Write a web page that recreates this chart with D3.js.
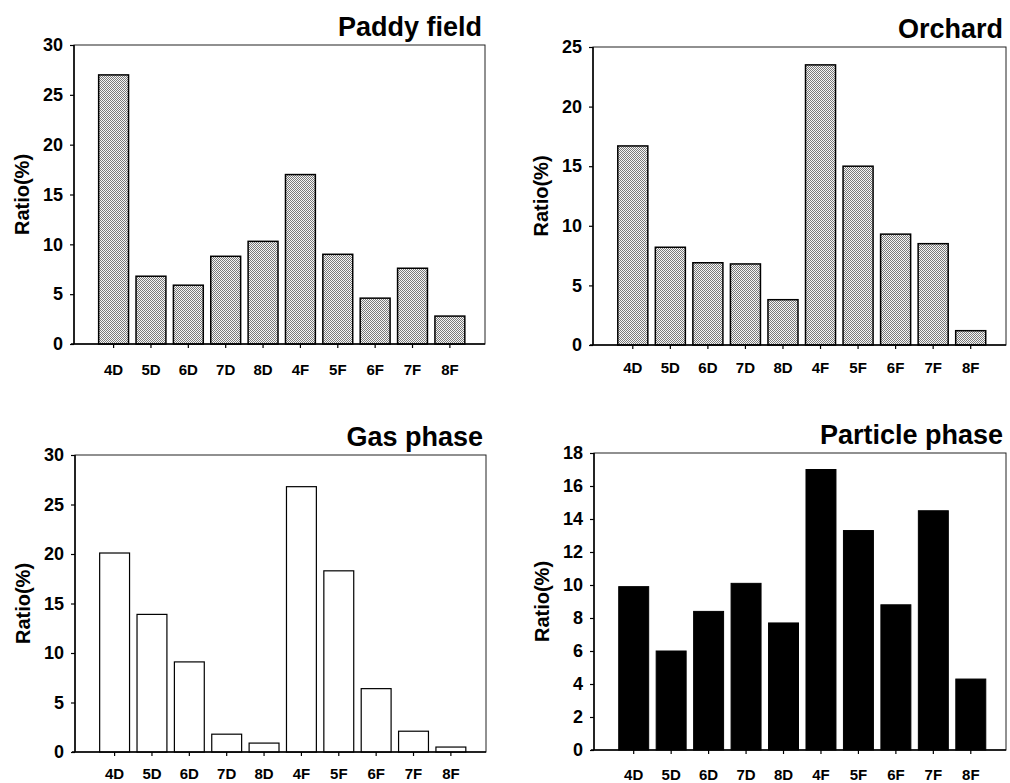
<!DOCTYPE html>
<html lang="en">
<head>
<meta charset="UTF-8">
<title>Ratio bar charts</title>
<script src="https://d3js.org/d3.v7.min.js"></script>
<style>
  body { margin: 0; background: #fff; }
  svg text { font-family: Arial, "Liberation Sans", sans-serif; font-weight: bold; fill: #000; }
</style>
</head>
<body>
<div id="chart"></div>
<script>
// categories and values
const categories = ['4D', '5D', '6D', '7D', '8D', '4F', '5F', '6F', '7F', '8F'];
const paddyValues = [27.0, 6.8, 5.9, 8.8, 10.3, 17.0, 9.0, 4.6, 7.6, 2.8];
const orchardValues = [16.7, 8.2, 6.9, 6.8, 3.8, 23.5, 15.0, 9.3, 8.5, 1.2];
const gasValues = [20.1, 13.9, 9.1, 1.8, 0.9, 26.8, 18.3, 6.4, 2.1, 0.5];
const particleValues = [9.9, 6.0, 8.4, 10.1, 7.7, 17.0, 13.3, 8.8, 14.5, 4.3];
const paddyTicks = [0, 5, 10, 15, 20, 25, 30];
const orchardTicks = [0, 5, 10, 15, 20, 25];
const gasTicks = [0, 5, 10, 15, 20, 25, 30];
const particleTicks = [0, 2, 4, 6, 8, 10, 12, 14, 16, 18];

const width = 1010, height = 783;

const svg = d3.select('#chart').append('svg')
    .attr('width', width)
    .attr('height', height);

// stipple fill like the scanned halftone
const pat = svg.append('defs').append('pattern')
    .attr('id', 'dots')
    .attr('patternUnits', 'userSpaceOnUse')
    .attr('width', 2).attr('height', 2);
pat.append('rect').attr('width', 2).attr('height', 2).attr('fill', '#f6f6f6');
pat.append('rect').attr('x', 0).attr('y', 0).attr('width', 1).attr('height', 1).attr('fill', '#7a7a7a');
pat.append('rect').attr('x', 1).attr('y', 1).attr('width', 1).attr('height', 1).attr('fill', '#7a7a7a');

const panels = [
    { title: 'Paddy field', values: paddyValues, ticks: paddyTicks, box: [74, 45, 485, 344], fill: 'url(#dots)', sw: 1.5, lab: 16 },
    { title: 'Orchard', values: orchardValues, ticks: orchardTicks, box: [593, 47, 1006, 345], fill: 'url(#dots)', sw: 1.5, lab: 13 },
    { title: 'Gas phase', values: gasValues, ticks: gasTicks, box: [75, 455, 486, 752], fill: '#fff', sw: 1.2, lab: 12 },
    { title: 'Particle phase', values: particleValues, ticks: particleTicks, box: [594, 453, 1006, 750], fill: '#000', sw: 1, lab: 15 }
];

panels.forEach(p => {
    const [l, t, r, b] = p.box;
    const g = svg.append('g');

    const x = d3.scaleBand()
        .domain(categories)
        .range([l, r])
        .paddingInner(0.2)
        .paddingOuter(0.6)
        .align(0.55);

    const y = d3.scaleLinear()
        .domain([0, d3.max(p.ticks)])
        .range([b, t]);

    // frame (top / right sides)
    g.append('rect')
        .attr('x', l).attr('y', t)
        .attr('width', r - l).attr('height', b - t)
        .attr('fill', 'none')
        .attr('stroke', '#222')
        .attr('stroke-width', 1);

    g.selectAll('.bar')
        .data(p.values)
        .enter().append('rect')
        .attr('class', 'bar')
        .attr('x', (d, i) => x(categories[i]))
        .attr('y', d => y(d))
        .attr('width', x.bandwidth())
        .attr('height', d => y(0) - y(d))
        .attr('fill', p.fill)
        .attr('stroke', '#000')
        .attr('stroke-width', p.sw);

    const yAxis = g.append('g')
        .attr('transform', `translate(${l},0)`)
        .call(d3.axisLeft(y).tickValues(p.ticks).tickSize(4).tickPadding(7).tickFormat(d3.format('d')));
    yAxis.select('.domain').attr('stroke-width', 1.5).attr('d', `M0,${t}V${b}`);
    yAxis.selectAll('.tick text').style('font-size', '18px');

    const xAxis = g.append('g')
        .attr('transform', `translate(0,${b})`)
        .call(d3.axisBottom(x).tickSize(4).tickPadding(p.lab));
    xAxis.select('.domain').attr('stroke-width', 1.5).attr('d', `M${l - 3},0H${r}`);
    xAxis.selectAll('.tick text').style('font-size', '15px');

    g.selectAll('.tick line').attr('stroke-width', 1.2);

    g.append('text')
        .attr('x', r - 3)
        .attr('y', t - 9)
        .attr('text-anchor', 'end')
        .style('font-size', '27px')
        .text(p.title);

    g.append('text')
        .attr('transform', `translate(${l - 45},${(t + b) / 2}) rotate(-90)`)
        .attr('text-anchor', 'middle')
        .style('font-size', '20px')
        .text('Ratio(%)');
});
</script>
</body>
</html>
